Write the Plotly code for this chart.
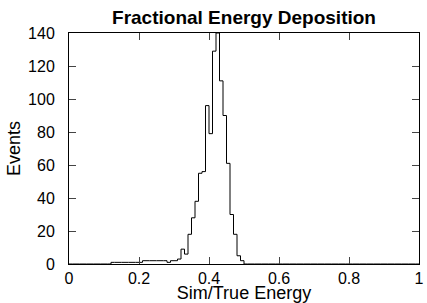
import numpy as np
import plotly.graph_objects as go

# histogram: 100 bins of width 0.01 from 0 to 1
bin_lo = 0.0
bin_hi = 1.0
counts = (
    [0] * 12 +                      # 0.00 - 0.12
    [1] * 8 +                       # 0.12 - 0.20
    [1] +                           # 0.20 - 0.21
    [2] * 6 +                       # 0.21 - 0.27
    [2, 1, 2, 2, 3] +               # 0.27 - 0.32
    [9, 6, 18, 28, 38, 55, 56, 96,  # 0.32 - 0.40
     79, 129, 140, 111, 90, 61, 30, 18, 5, 2] +  # 0.40 - 0.50
    [0] * 50                        # 0.50 - 1.00
)
x_ticks = [0, 0.2, 0.4, 0.6, 0.8, 1]
x_tick_text = ["0", "0.2", "0.4", "0.6", "0.8", "1"]
y_ticks = [0, 20, 40, 60, 80, 100, 120, 140]

edges = np.linspace(bin_lo, bin_hi, len(counts) + 1)
xs = list(edges)
ys = list(counts) + [counts[-1]]

font = "Liberation Sans"
fig = go.Figure()
fig.add_trace(go.Scatter(x=xs, y=ys, mode="lines", line=dict(shape="hv", color="black", width=1),
                         hoverinfo="skip", showlegend=False))

fig.update_layout(
    width=427, height=303,
    margin=dict(l=69, r=3, t=33, b=36),
    paper_bgcolor="white", plot_bgcolor="white",
    font=dict(family=font, size=16, color="black"),
    title=dict(text="<b>Fractional Energy Deposition</b>", x=0.5, xref="paper", xanchor="center",
               y=1 - 17 / 303, yanchor="middle", font=dict(size=19, family=font)),
    xaxis=dict(range=[0, 1], tickvals=x_ticks, ticktext=x_tick_text, ticks="inside", ticklen=7,
               showline=True, linecolor="black", linewidth=1, mirror="ticks", showgrid=False,
               zeroline=False, title=dict(text="Sim/True Energy", standoff=0, font=dict(size=18)),
               tickfont=dict(size=16), ticklabeloverflow="allow"),
    yaxis=dict(range=[0, 140], tickvals=y_ticks, ticks="inside", ticklen=7,
               showline=True, linecolor="black", linewidth=1, mirror="ticks", showgrid=False,
               zeroline=False, title=dict(text="Events", standoff=2, font=dict(size=18)),
               tickfont=dict(size=16), ticklabelstandoff=10, ticklabeloverflow="allow"),
)
fig.write_html("out.html", config={"displayModeBar": False},
               post_script="document.body.style.margin='0';document.body.style.overflow='hidden';")
